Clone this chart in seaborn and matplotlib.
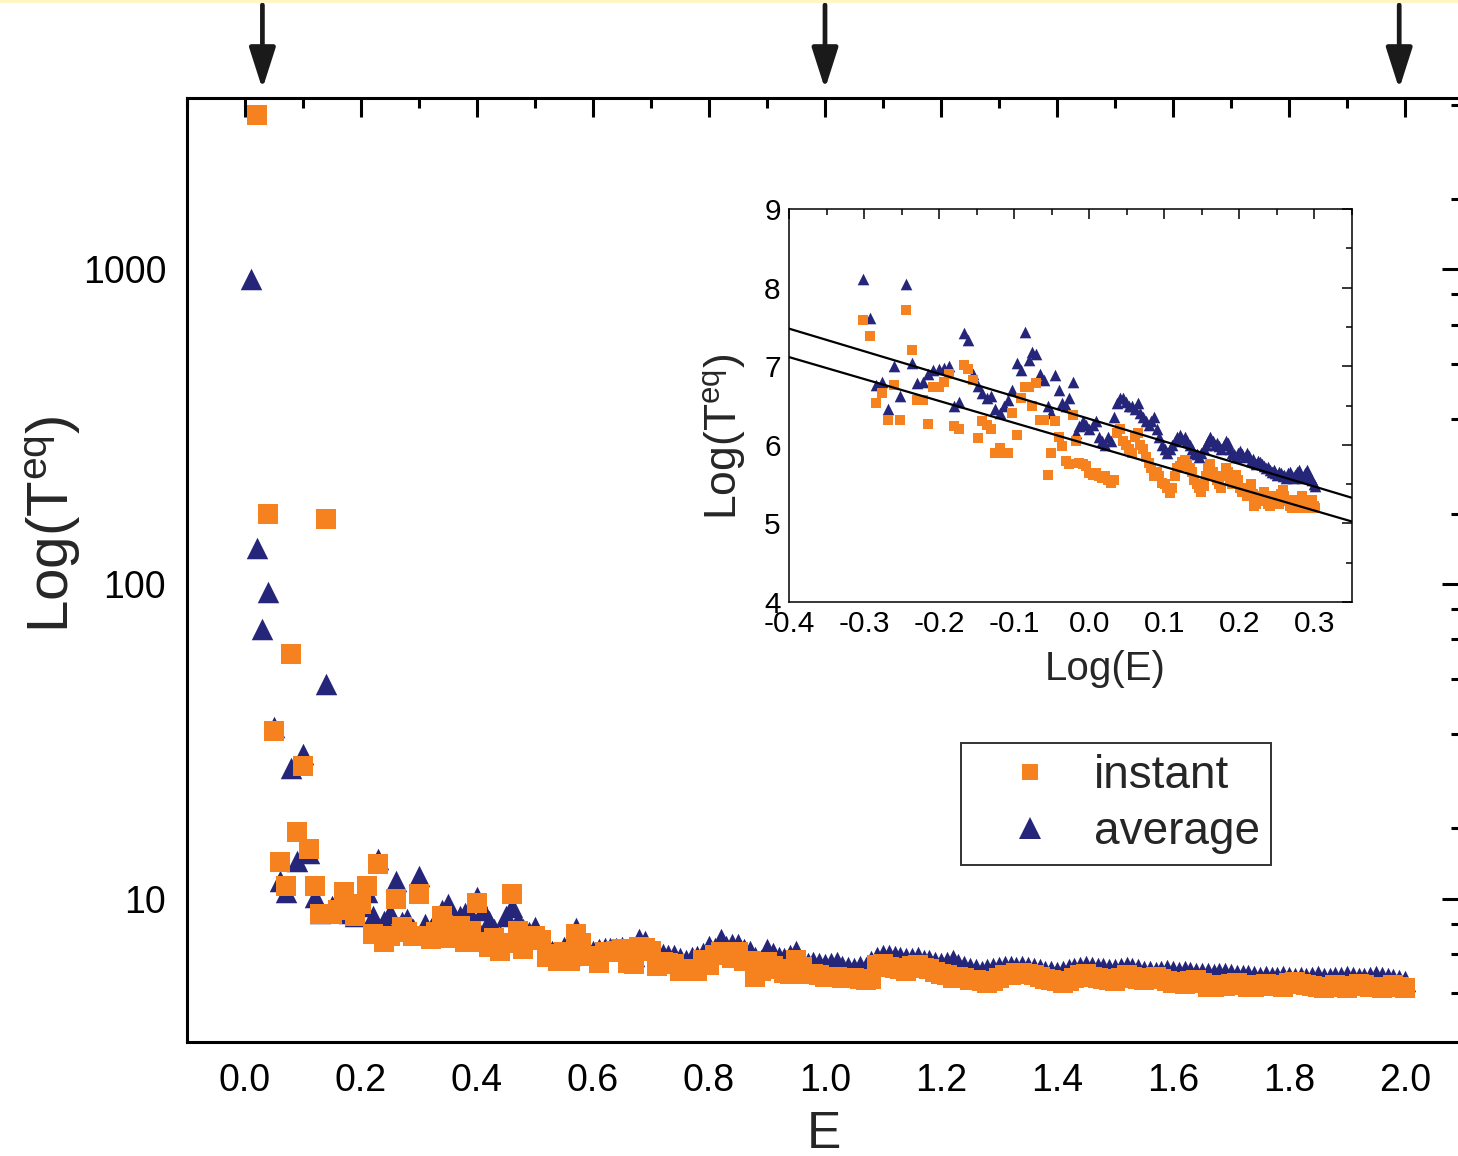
import numpy as np
import pandas as pd
import matplotlib
matplotlib.use("Agg")
import matplotlib.pyplot as plt
import seaborn as sns
from matplotlib.ticker import FixedLocator, MultipleLocator, NullFormatter, FixedFormatter
from matplotlib.lines import Line2D
from matplotlib.patches import Rectangle

# ---------------- data ----------------
# E grid: 0.01 ... 2.00 in steps of 0.01
E = np.round(np.arange(1, 201) * 0.01, 2)

instant = [
    np.nan, 3100, np.nan, 167, 34, 13.1, 11.0, 60, 16.3, 26.3,
    14.4, 11.0, 8.9, 161, 8.9, 9.2, 10.5, 9.5, 8.8, 9.6,
    11.0, 7.7, 12.9, 7.25, 7.6, 10.0, 8.1, 7.8, 7.6, 10.3,
    7.6, 7.45, 7.8, 8.8, 7.5, 7.6, 8.2, 7.3, 7.9, 9.65,
    7.25, 7.0, 7.5, 6.8, 7.2, 10.3, 7.9, 6.9, 7.5, 7.59,
    7.38, 6.53, 6.66, 6.32, 6.76, 6.32, 7.71, 7.20, 6.57, 6.57,
    6.26, 6.74, 6.74, 6.80, 6.90, 6.24, 6.20, 7.02, 6.97, 6.83,
    6.09, 6.30, 6.25, 6.20, 5.90, 5.96, 5.90, 5.90, 6.40, 6.13,
    6.60, 6.74, 6.74, 6.49, 6.78, 6.32, 6.32, 5.62, 5.90, 6.30,
    6.10, 5.98, 5.80, 5.75, 6.38, 6.05, 5.77, 5.75, 5.73, 5.64,
    5.62, 5.64, 5.60, 5.58, 5.60, 5.55, 5.52, 5.55, 6.15, 6.20,
    6.05, 6.00, 5.95, 5.90, 6.10, 6.15, 6.00, 5.95, 5.85, 5.77,
    5.70, 5.60, 5.65, 5.60, 5.52, 5.50, 5.45, 5.39, 5.45, 5.60,
    5.70, 5.73, 5.78, 5.81, 5.75, 5.70, 5.65, 5.55, 5.50, 5.45,
    5.40, 5.48, 5.60, 5.70, 5.75, 5.65, 5.60, 5.55, 5.50, 5.45,
    5.60, 5.70, 5.65, 5.55, 5.50, 5.58, 5.62, 5.55, 5.45, 5.40,
    5.42, 5.35, 5.45, 5.50, 5.38, 5.22, 5.25, 5.30, 5.28, 5.35,
    5.40, 5.32, 5.25, 5.22, 5.30, 5.35, 5.28, 5.30, 5.25, 5.38,
    5.42, 5.35, 5.30, 5.28, 5.22, 5.20, 5.25, 5.30, 5.22, 5.20,
    5.28, 5.35, 5.30, 5.25, 5.22, 5.20, 5.25, 5.30, 5.22, 5.20,
]

average = [
    930, 130, 72, 94, 35, 11.4, 10.5, 25.9, 13.2, 28.7,
    14.0, 10.1, 9.0, 48, 9.5, 9.8, 10.2, 9.0, 8.8, 9.5,
    10.5, 8.8, 13.4, 8.5, 9.0, 11.4, 8.4, 8.6, 8.0, 11.8,
    8.3, 8.0, 8.6, 9.2, 9.6, 8.4, 8.8, 9.0, 8.8, 10.1,
    9.2, 8.5, 8.0, 7.6, 8.8, 9.4, 8.5, 8.0, 7.8, 8.11,
    7.61, 6.76, 6.80, 6.45, 7.00, 6.62, 8.05, 7.04, 6.78, 6.80,
    6.90, 6.95, 6.97, 6.98, 7.00, 6.50, 6.55, 7.42, 7.33, 6.90,
    6.75, 6.66, 6.60, 6.62, 6.45, 6.40, 6.50, 6.57, 6.70, 7.04,
    6.95, 7.44, 7.08, 7.18, 7.16, 6.90, 6.83, 6.50, 6.40, 6.89,
    6.70, 6.53, 6.49, 6.60, 6.80, 6.15, 6.24, 6.30, 6.25, 6.20,
    6.25, 6.30, 6.10, 6.05, 6.00, 6.10, 6.05, 6.35, 6.53, 6.60,
    6.60, 6.55, 6.50, 6.49, 6.45, 6.53, 6.40, 6.36, 6.30, 6.25,
    6.30, 6.36, 6.20, 6.10, 6.00, 5.95, 5.90, 5.95, 6.00, 6.05,
    6.10, 6.12, 6.08, 6.10, 6.05, 6.00, 5.95, 5.90, 5.88, 5.85,
    5.90, 5.95, 6.00, 6.05, 6.10, 6.05, 6.00, 6.02, 5.98, 5.95,
    6.00, 6.05, 6.02, 5.95, 5.90, 5.88, 5.85, 5.90, 5.92, 5.88,
    5.85, 5.90, 5.86, 5.80, 5.82, 5.78, 5.75, 5.80, 5.78, 5.75,
    5.73, 5.70, 5.72, 5.68, 5.65, 5.68, 5.64, 5.62, 5.66, 5.64,
    5.60, 5.62, 5.58, 5.64, 5.66, 5.60, 5.58, 5.62, 5.65, 5.68,
    5.62, 5.58, 5.60, 5.64, 5.68, 5.62, 5.58, 5.55, 5.50, 5.48,
]

series_names = ["instant", "average"]
arrow_E = [0.03, 1.0, 1.99]

# inset fit lines:  Log(T) = intercept + slope * Log(E)
fit_intercepts = [6.33, 6.00]
fit_slopes = [-2.87, -2.79]

main_xticks = [0.0, 0.2, 0.4, 0.6, 0.8, 1.0, 1.2, 1.4, 1.6, 1.8, 2.0]
main_yticks = [10, 100, 1000]
main_yminor = [5, 6.67, 8.33, 16.7, 33.3, 50, 66.7, 83.3,
               167, 333, 500, 667, 833, 1667, 3333]
inset_xticks = [-0.4, -0.3, -0.2, -0.1, 0.0, 0.1, 0.2, 0.3]
inset_yticks = [4, 5, 6, 7, 8, 9]

ORANGE = "#F5821F"
NAVY = "#25257A"

# ---------------- style ----------------
sns.set_style("white")
plt.rcParams["font.family"] = ["Liberation Sans", "DejaVu Sans"]
plt.rcParams["mathtext.fontset"] = "custom"
plt.rcParams["mathtext.rm"] = "Liberation Sans"
plt.rcParams["mathtext.it"] = "Liberation Sans:italic"
plt.rcParams["axes.edgecolor"] = "black"
plt.rcParams["xtick.color"] = "black"
plt.rcParams["ytick.color"] = "black"

df = pd.DataFrame({"E": list(E) * 2,
                   "T": instant + average,
                   "series": ["instant"] * len(E) + ["average"] * len(E)})
df = df.dropna()
df_in = df[df["E"] >= 0.5].copy()
df_in["logE"] = np.log10(df_in["E"])

W, H = 1458, 1156
fig = plt.figure(figsize=(W / 100, H / 100), dpi=100)
fig.patch.set_facecolor("white")
fig.add_artist(Rectangle((0, 1 - 3 / H), 1, 3 / H, transform=fig.transFigure,
                         facecolor="#FFF6C2", edgecolor="none"))

ax = fig.add_axes([187 / W, 1 - 1042 / H, (1461 - 187) / W, 944 / H])
ax.set_yscale("log")

sns.scatterplot(data=df[df.series == "average"], x="E", y="T", ax=ax,
                marker="^", s=240, color=NAVY, linewidth=0, legend=False, zorder=3)
sns.scatterplot(data=df[df.series == "instant"], x="E", y="T", ax=ax,
                marker="s", s=190, color=ORANGE, linewidth=0, legend=False, zorder=4)

ax.set_xlim(-0.1, (1461 - 245) / 580)
ax.set_ylim(3.5, 3500)
ax.xaxis.set_major_locator(FixedLocator(main_xticks))
ax.xaxis.set_minor_locator(MultipleLocator(0.1))
ax.set_xticklabels([f"{v:.1f}" for v in main_xticks])
ax.yaxis.set_major_locator(FixedLocator(main_yticks))
ax.yaxis.set_major_formatter(FixedFormatter([str(v) for v in main_yticks]))
ax.yaxis.set_minor_locator(FixedLocator(main_yminor))
ax.yaxis.set_minor_formatter(NullFormatter())
ax.tick_params(which="both", direction="in", top=True, right=True, width=2.2,
               labelsize=27, pad=15)
ax.tick_params(which="major", length=14)
ax.tick_params(which="minor", length=7)
for sp in ax.spines.values():
    sp.set_linewidth(2.2)
ax.set_xlabel("E", fontsize=37, labelpad=8)
ax.set_ylabel("Log(T$^{\\rm eq}$)", fontsize=42)
ax.yaxis.set_label_coords((83 - 187) / 1274, (1042 - 524) / 944)

# arrows above the plot
for xa in arrow_E:
    ax.annotate("", xy=(xa, 1 + 9 / 944), xycoords=ax.get_xaxis_transform(),
                xytext=(xa, 1 + 93 / 944), textcoords=ax.get_xaxis_transform(),
                arrowprops=dict(arrowstyle="-|>,head_length=1.25,head_width=0.4",
                                mutation_scale=20, lw=3.4, color="#1a1a1a",
                                shrinkA=0, shrinkB=0), annotation_clip=False)

# legend
handles = [Line2D([], [], marker="s", ls="none", color=ORANGE, markersize=11, markeredgewidth=0),
           Line2D([], [], marker="^", ls="none", color=NAVY, markersize=16, markeredgewidth=0)]
leg = ax.legend(handles, series_names, loc="lower left",
                bbox_to_anchor=((961 - 187) / 1274, (1042 - 865) / 944),
                borderaxespad=0, fontsize=33, frameon=True, fancybox=False,
                edgecolor="black", handlelength=2.5, handletextpad=0.15,
                borderpad=0.25, labelspacing=0.25)
leg.get_frame().set_linewidth(1.4)

# ---------------- inset ----------------
axin = fig.add_axes([789 / W, 1 - 602 / H, (1352 - 789) / W, (602 - 209) / H])
sns.scatterplot(data=df_in[df_in.series == "average"], x="logE", y="T", ax=axin,
                marker="^", s=70, color=NAVY, linewidth=0, legend=False, zorder=3)
sns.scatterplot(data=df_in[df_in.series == "instant"], x="logE", y="T", ax=axin,
                marker="s", s=48, color=ORANGE, linewidth=0, legend=False, zorder=4)
xl = np.array([-0.4, 0.35])
for b0, b1 in zip(fit_intercepts, fit_slopes):
    axin.plot(xl, b0 + b1 * xl, color="black", lw=1.6, zorder=5)
axin.set_xlim(-0.4, 0.35)
axin.set_ylim(4, 9)
axin.xaxis.set_major_locator(FixedLocator(inset_xticks))
axin.set_xticklabels([f"{v:.1f}" for v in inset_xticks])
axin.xaxis.set_minor_locator(MultipleLocator(0.05))
axin.yaxis.set_major_locator(FixedLocator(inset_yticks))
axin.yaxis.set_minor_locator(MultipleLocator(0.5))
axin.tick_params(which="both", direction="in", top=True, right=True, width=1.1,
                 labelsize=21.5, pad=6)
axin.tick_params(which="major", length=7)
axin.tick_params(which="minor", length=4)
for sp in axin.spines.values():
    sp.set_linewidth(1.1)
axin.set_xlabel("Log(E)", fontsize=29)
axin.xaxis.set_label_coords((1105 - 789) / 563, (602 - 650) / 393)
axin.set_ylabel("Log(T$^{\\rm eq}$)", fontsize=32)
axin.yaxis.set_label_coords((748 - 789) / 563, (602 - 437) / 393)

fig.savefig("out.png", dpi=100)
